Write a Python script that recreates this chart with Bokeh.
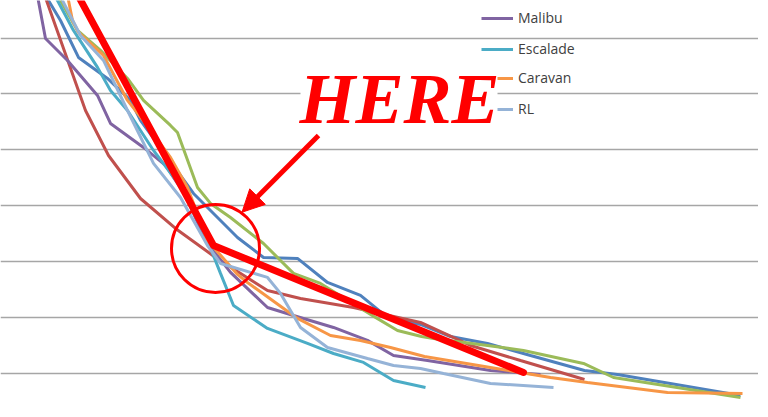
from bokeh.plotting import figure
from bokeh.models import Range1d, FixedTicker, Legend, LegendItem, Label, Arrow, NormalHead, BoxAnnotation
from bokeh.embed import file_html
from bokeh.resources import INLINE

# x: mileage (thousand miles), y: value (thousand $)
blue_x = [6.2, 8.0, 10.4, 14.0, 19.8, 24.4, 26.4, 37.0, 41.8, 45.8, 51.0, 57.8, 63.8, 70.4, 75.8, 82.4, 88.4, 95.8, 104.4, 115.2, 121.8, 146.4]
blue_y = [39.72, 38.37, 36.58, 33.27, 31.39, 29.42, 27.63, 21.09, 18.94, 17.15, 15.36, 15.27, 13.12, 11.96, 9.99, 9.36, 8.28, 7.66, 6.58, 5.24, 4.88, 3.00]

brown_x = [6.6, 7.6, 15.4, 20.0, 26.4, 33.4, 41.4, 51.8, 58.4, 69.0, 82.4, 92.4, 102.4, 115.2]
brown_y = [39.72, 38.37, 28.52, 24.49, 20.64, 17.96, 15.36, 12.40, 11.69, 10.88, 9.54, 7.48, 6.13, 4.43]

green_x = [8.6, 10.4, 13.8, 18.4, 23.8, 27.0, 32.4, 33.8, 37.8, 40.4, 44.4, 51.0, 54.4, 57.0, 62.4, 73.4, 77.8, 82.6, 85.0, 95.8, 103.0, 115.0, 121.0, 146.4]
green_y = [39.72, 38.37, 35.69, 33.90, 31.39, 29.42, 27.18, 26.55, 21.63, 20.20, 18.94, 16.61, 15.09, 13.93, 13.03, 9.99, 8.82, 8.28, 8.10, 7.48, 7.03, 5.87, 4.61, 2.82]

malibu_x = [5.4, 7.4, 11.8, 17.8, 20.4, 27.0, 31.4, 35.4, 39.4, 44.4, 51.8, 57.0, 65.0, 71.8, 77.0, 83.8, 96.4, 106.4]
malibu_y = [39.72, 34.97, 33.00, 29.87, 27.36, 25.21, 23.60, 20.91, 16.88, 14.02, 10.88, 10.16, 9.09, 7.93, 6.58, 6.13, 5.24, 4.88]

escalade_x = [8.2, 9.8, 13.0, 17.8, 20.4, 23.8, 29.0, 35.8, 39.8, 42.4, 45.0, 51.8, 59.8, 65.0, 71.0, 77.0, 83.4]
escalade_y = [39.72, 38.37, 35.69, 32.38, 30.31, 28.52, 24.94, 20.91, 16.88, 13.93, 11.06, 9.00, 7.66, 6.76, 5.96, 4.34, 3.72]

caravan_x = [11.8, 12.0, 12.8, 14.0, 19.0, 23.8, 27.4, 32.4, 35.8, 39.8, 45.8, 47.8, 57.8, 64.4, 70.4, 76.4, 83.2, 96.4, 108.4, 115.8, 131.8, 146.8]
caravan_y = [39.72, 38.37, 36.58, 35.51, 33.45, 29.42, 27.36, 24.31, 21.63, 16.88, 13.84, 13.12, 9.90, 8.37, 7.93, 7.30, 6.49, 5.51, 4.61, 4.16, 3.27, 3.18]

rl_x = [9.2, 10.8, 14.4, 19.0, 23.8, 29.0, 34.4, 39.8, 42.4, 51.8, 54.4, 58.4, 63.8, 71.8, 77.0, 82.4, 87.0, 96.4, 109.0]
rl_y = [39.72, 38.37, 35.24, 33.00, 28.52, 23.78, 20.73, 16.43, 14.82, 13.57, 12.14, 9.09, 7.30, 6.31, 5.69, 5.42, 4.97, 4.07, 3.72]

# highlighted trend (thick red line)
trend_x = [11.2, 41.0, 103.0]
trend_y = [41.06, 16.43, 5.06]

# annotation anchors
circle_x = [41.4]
circle_y = [16.17]
arrow_from = (62.0, 26.28)
arrow_to = (46.7, 19.41)
here_pos = (58.2, 29.55)
here_box = (58.4, 97.8, 26.73, 33.0)   # left, right, bottom, top

grid_ticks = [5, 10, 15, 20, 25, 30, 35]

W, H = 758, 401
p = figure(width=W, height=H, output_backend="svg", toolbar_location=None,
           x_range=Range1d(-1.6, 150.0), y_range=Range1d(2.46, 38.37), min_border=0)
p.xaxis.visible = False
p.yaxis.visible = False
p.xgrid.visible = False
p.ygrid.ticker = FixedTicker(ticks=grid_ticks)
p.ygrid.grid_line_color = "#a6a6a6"
p.ygrid.grid_line_width = 1.5
p.outline_line_color = None
p.background_fill_color = "white"
p.border_fill_color = "white"

lw = 3
p.line(blue_x, blue_y, line_color="#4F81BD", line_width=lw)
p.line(brown_x, brown_y, line_color="#C0504D", line_width=lw)
p.line(green_x, green_y, line_color="#9BBB59", line_width=lw)
r_mal = p.line(malibu_x, malibu_y, line_color="#8064A2", line_width=lw)
r_esc = p.line(escalade_x, escalade_y, line_color="#4BACC6", line_width=lw)
r_car = p.line(caravan_x, caravan_y, line_color="#F79646", line_width=lw)
r_rl = p.line(rl_x, rl_y, line_color="#95B3D7", line_width=lw)

p.line(trend_x, trend_y, line_color="#FF0000", line_width=7, line_join="round", line_cap="round")

p.scatter(circle_x, circle_y, marker="circle", size=88, fill_alpha=0,
          line_color="#FF0000", line_width=3)

legend_style = dict(glyph_height=18, label_height=18, label_standoff=5, spacing=12,
                    padding=0, margin=0, border_line_color=None, background_fill_alpha=0,
                    label_text_font="Open Sans", label_text_font_size="14px",
                    label_text_color="#404040")

p.add_layout(BoxAnnotation(left=here_box[0], right=here_box[1], bottom=here_box[2], top=here_box[3],
                           fill_color="white", fill_alpha=1.0, line_color=None, level="overlay"))

legend_a = Legend(items=[
    LegendItem(label="Malibu", renderers=[r_mal]),
    LegendItem(label="Escalade", renderers=[r_esc]),
], location=(481, H - 58), glyph_width=32, **legend_style)
p.add_layout(legend_a)

# lower rows: their keys are partly hidden behind the "HERE" callout
legend_b = Legend(items=[
    LegendItem(label="Caravan", renderers=[r_car]),
    LegendItem(label="RL", renderers=[r_rl]),
], location=(497, H - 118), glyph_width=16, **legend_style)
p.add_layout(legend_b)

here = Label(x=here_pos[0], y=here_pos[1], text="HERE", text_font="Liberation Serif",
             text_font_style="bold italic", text_font_size="72px", text_color="#FF0000",
             text_baseline="alphabetic", text_align="left", level="overlay")
p.add_layout(here)

p.add_layout(Arrow(end=NormalHead(size=22, fill_color="#FF0000", line_color="#FF0000"),
                   x_start=arrow_from[0], y_start=arrow_from[1],
                   x_end=arrow_to[0], y_end=arrow_to[1],
                   line_color="#FF0000", line_width=5, level="overlay"))

open("out.html", "w").write(file_html(p, INLINE))
